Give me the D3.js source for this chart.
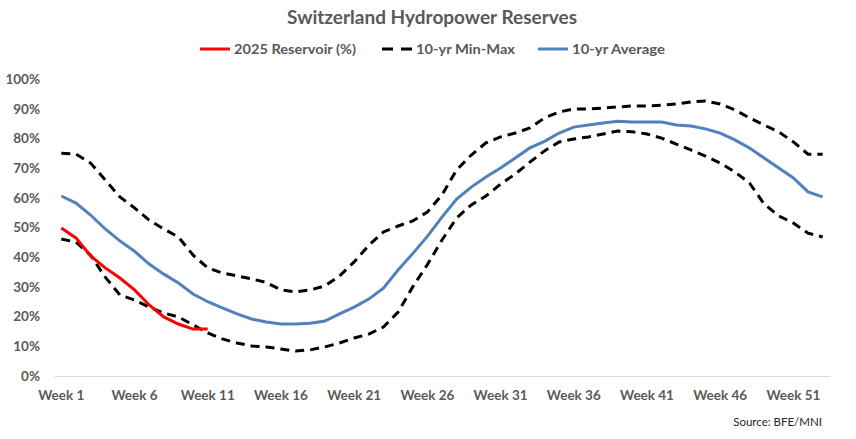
<!DOCTYPE html>
<html>
<head>
<meta charset="utf-8">
<script src="https://cdn.jsdelivr.net/npm/d3@7"></script>
<style>
  body { margin: 0; background: #fff; }
  text { font-family: Lato, "Open Sans", sans-serif; }
</style>
</head>
<body>
<svg width="856" height="439"></svg>
<script>
// weekly values, % of capacity
const weeks = d3.range(1, 54).map((w) => "Week " + w);
const tickWeeks = ["Week 1", "Week 6", "Week 11", "Week 16", "Week 21", "Week 26",
  "Week 31", "Week 36", "Week 41", "Week 46", "Week 51"];
const yTicks = [0, 10, 20, 30, 40, 50, 60, 70, 80, 90, 100];

const reservoir2025 = [49.8, 46.5, 40.4, 36.4, 33, 29, 23.9, 19.9, 17.5, 15.8, 15.8];

const tenYrMax = [75, 74.7, 71.7, 66, 60.3, 56.6, 52.5, 49.5, 46.8, 40.7,
  36.4, 34.7, 33.7, 32.7, 31.5, 29, 28.3, 29, 30.3, 33.7,
  38.4, 44, 48.5, 50.5, 52.2, 55.2, 61, 69.4, 74.4, 78.5,
  80.5, 81.8, 83.5, 86.9, 88.9, 89.9, 89.9, 90.2, 90.6, 90.9,
  90.9, 91.2, 91.6, 92.3, 92.6, 91.6, 89.6, 86.9, 84.5, 82.2,
  78.8, 74.7, 74.7];

const tenYrMin = [46.1, 45.1, 40.7, 33.3, 27.3, 25.6, 23.2, 21.2, 19.9, 17.2,
  14.5, 12.5, 11.1, 10.1, 9.8, 9.1, 8.4, 8.8, 9.8, 11.1,
  12.8, 14.1, 16.5, 21.5, 30, 37.5, 45.8, 53.2, 57.6, 60.6,
  64.6, 68, 72, 75.8, 78.8, 79.8, 80.5, 81.5, 82.5, 82.2,
  81.5, 80.1, 78.1, 76.1, 74, 71.7, 68.7, 65, 57.9, 53.9,
  51.5, 48.1, 46.8];

const tenYrAvg = [60.6, 58.2, 54.2, 49.5, 45.5, 42, 37.7, 34.3, 31.3, 27.6,
  25, 22.9, 20.9, 19.2, 18.2, 17.5, 17.5, 17.8, 18.5, 20.9,
  23.2, 25.9, 29.6, 35.7, 41.2, 47, 53.5, 59.6, 63.6, 67,
  70, 73.4, 76.8, 79, 81.8, 83.8, 84.5, 85.2, 85.8, 85.5,
  85.5, 85.5, 84.5, 84.2, 83.2, 81.8, 79.5, 76.8, 73.4, 70,
  66.7, 62, 60.3];

const svg = d3.select("svg");
const margin = { top: 79, right: 26, bottom: 63, left: 54 };
const innerWidth = 856 - margin.left - margin.right;
const innerHeight = 439 - margin.top - margin.bottom;

const xScale = d3.scaleBand().domain(weeks).range([0, innerWidth]);
const yScale = d3.scaleLinear().domain([0, 100]).range([innerHeight, 0]);
const xPos = (i) => xScale(weeks[i]) + xScale.bandwidth() / 2;

const g = svg.append("g")
  .attr("transform", `translate(${margin.left}, ${margin.top})`);

//title
svg.append("text")
  .attr("x", 432)
  .attr("y", 24)
  .attr("text-anchor", "middle")
  .attr("font-size", 18)
  .attr("font-weight", "bold")
  .attr("fill", "#595959")
  .attr("textLength", 290)
  .attr("lengthAdjust", "spacingAndGlyphs")
  .text("Switzerland Hydropower Reserves");

//legend
const legendItems = [
  { label: "2025 Reservoir (%)", color: "#ff0000", dash: null, x: 200, w: 122 },
  { label: "10-yr Min-Max", color: "#000", dash: "11,8", x: 382, w: 99 },
  { label: "10-yr Average", color: "#4f81bd", dash: null, x: 538, w: 93 },
];
const legend = svg.append("g").selectAll("g")
  .data(legendItems)
  .enter()
  .append("g")
  .attr("transform", (d) => `translate(${d.x}, 49)`);
legend.append("line")
  .attr("x1", 0).attr("x2", 30)
  .attr("stroke", (d) => d.color)
  .attr("stroke-width", 3)
  .attr("stroke-dasharray", (d) => d.dash);
legend.append("text")
  .attr("x", (d) => (d.dash ? 34 : 34))
  .attr("y", 5)
  .attr("font-size", 14)
  .attr("font-weight", "bold")
  .attr("fill", "#595959")
  .attr("textLength", (d) => d.w)
  .attr("lengthAdjust", "spacingAndGlyphs")
  .text((d) => d.label);

//axes
const xAxis = d3.axisBottom(xScale).tickValues(tickWeeks).tickSize(0).tickPadding(14);
const yAxis = d3.axisLeft(yScale).tickValues(yTicks).tickSize(0).tickPadding(14)
  .tickFormat((d) => d + "%");

const gx = g.append("g")
  .attr("transform", `translate(0, ${innerHeight})`)
  .call(xAxis);
gx.select(".domain").attr("stroke", "#d9d9d9").attr("stroke-width", 1);

const gy = g.append("g").call(yAxis);
gy.select(".domain").remove();

svg.selectAll(".tick text")
  .attr("font-family", "Lato, 'Open Sans', sans-serif")
  .attr("font-size", 13.5)
  .attr("font-weight", "bold")
  .attr("fill", "#595959");

//lines
const line = d3.line()
  .x((d, i) => xPos(i))
  .y((d) => yScale(d));

g.append("path")
  .datum(tenYrMax)
  .attr("d", line)
  .attr("fill", "none")
  .attr("stroke", "#000")
  .attr("stroke-width", 3)
  .attr("stroke-dasharray", "9,6");

g.append("path")
  .datum(tenYrMin)
  .attr("d", line)
  .attr("fill", "none")
  .attr("stroke", "#000")
  .attr("stroke-width", 3)
  .attr("stroke-dasharray", "9,6");

g.append("path")
  .datum(tenYrAvg)
  .attr("d", line)
  .attr("fill", "none")
  .attr("stroke", "#4f81bd")
  .attr("stroke-width", 3);

g.append("path")
  .datum(reservoir2025)
  .attr("d", line)
  .attr("fill", "none")
  .attr("stroke", "#ff0000")
  .attr("stroke-width", 3);

//source
svg.append("text")
  .attr("x", 822)
  .attr("y", 426)
  .attr("text-anchor", "end")
  .attr("font-size", 11.5)
  .attr("fill", "#262626")
  .text("Source: BFE/MNI");
</script>
</body>
</html>
